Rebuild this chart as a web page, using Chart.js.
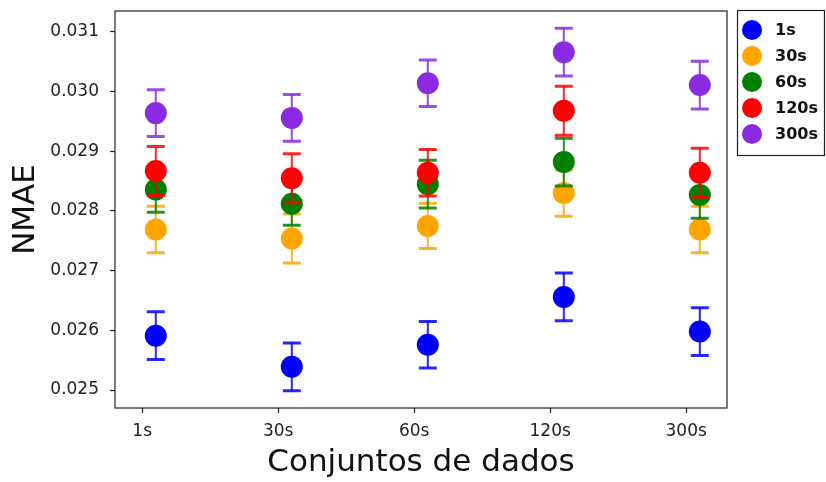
<!DOCTYPE html>
<html>
<head>
<meta charset="utf-8">
<script src="https://cdn.jsdelivr.net/npm/chart.js@4"></script>
<style>
  body { margin: 0; background: #fff; }
  canvas { display: block; }
</style>
</head>
<body>
<canvas id="errChart" width="826" height="482"></canvas>
<script>
// data
const categories = ['1s', '30s', '60s', '120s', '300s']
const seriesNames = ['1s', '30s', '60s', '120s', '300s']
const seriesColors = ['#0000ff', '#ffa500', '#008000', '#ff0000', '#8a2be2']

const mean1s = [0.02591, 0.02539, 0.02576, 0.02656, 0.02598]
const mean30s = [0.02769, 0.02754, 0.02775, 0.02830, 0.02769]
const mean60s = [0.02836, 0.02812, 0.02845, 0.02882, 0.02827]
const mean120s = [0.02867, 0.02855, 0.02864, 0.02968, 0.02864]
const mean300s = [0.02964, 0.02956, 0.03014, 0.03066, 0.03011]

const err1s = [0.00040, 0.00040, 0.00039, 0.00040, 0.00040]
const err30s = [0.00039, 0.00041, 0.00038, 0.00039, 0.00039]
const err60s = [0.00038, 0.00036, 0.00040, 0.00040, 0.00039]
const err120s = [0.00041, 0.00041, 0.00039, 0.00041, 0.00041]
const err300s = [0.00039, 0.00039, 0.00039, 0.00040, 0.00040]

const yTicks = [0.025, 0.026, 0.027, 0.028, 0.029, 0.030, 0.031]

const means = [mean1s, mean30s, mean60s, mean120s, mean300s]
const errors = [err1s, err30s, err60s, err120s, err300s]
const X_SHIFT = 0.1 // points sit a little right of each tick

const FONT = 'DejaVu Sans'

// error bars, drawn just before each dataset's markers
const errorBars = {
  id: 'errorBars',
  beforeDatasetDraw(chart, args) {
    const i = args.index
    const { ctx, scales } = chart
    const xs = scales.x
    const ys = scales.y
    ctx.save()
    ctx.strokeStyle = seriesColors[i]
    ctx.globalAlpha = 0.85
    means[i].forEach((m, j) => {
      const px = xs.getPixelForValue(j + X_SHIFT)
      const top = ys.getPixelForValue(m + errors[i][j])
      const bot = ys.getPixelForValue(m - errors[i][j])
      ctx.lineWidth = 2
      ctx.beginPath()
      ctx.moveTo(px, top)
      ctx.lineTo(px, bot)
      ctx.stroke()
      ctx.lineWidth = 3
      ctx.beginPath()
      ctx.moveTo(px - 9, top)
      ctx.lineTo(px + 9, top)
      ctx.moveTo(px - 9, bot)
      ctx.lineTo(px + 9, bot)
      ctx.stroke()
    })
    ctx.restore()
  },
}

// frame round the plot and a boxed legend outside on the right
const frameAndLegend = {
  id: 'frameAndLegend',
  afterDraw(chart) {
    const { ctx, chartArea } = chart
    ctx.save()
    ctx.strokeStyle = '#222'
    ctx.lineWidth = 1.2
    ctx.strokeRect(chartArea.left, chartArea.top, chartArea.right - chartArea.left, chartArea.bottom - chartArea.top)

    ctx.strokeRect(737.5, 10.5, 87, 145)
    ctx.font = 'bold 16px ' + FONT
    ctx.textBaseline = 'middle'
    seriesNames.forEach((name, i) => {
      const y = 30 + i * 26
      ctx.fillStyle = seriesColors[i]
      ctx.beginPath()
      ctx.arc(752, y, 10, 0, Math.PI * 2)
      ctx.fill()
      ctx.fillStyle = '#111'
      ctx.fillText(name, 775, y + 1)
    })
    ctx.restore()
  },
}

const createChart = () => {
  const canvas = document.getElementById('errChart')
  new Chart(canvas, {
    type: 'scatter',
    data: {
      datasets: seriesNames.map((name, i) => ({
        label: name,
        data: means[i].map((m, j) => ({ x: j + X_SHIFT, y: m })),
        backgroundColor: seriesColors[i],
        borderWidth: 0,
        pointRadius: 11,
        pointHoverRadius: 11,
        order: seriesNames.length - 1 - i,
      })),
    },
    options: {
      responsive: false,
      animation: false,
      layout: { padding: { left: 0, right: 99, top: 10, bottom: 0 } },
      plugins: {
        legend: { display: false },
        tooltip: { enabled: false },
      },
      scales: {
        x: {
          type: 'linear',
          min: -0.2,
          max: 4.3,
          afterBuildTicks: (scale) => {
            scale.ticks = categories.map((c, j) => ({ value: j }))
          },
          afterFit: (scale) => {
            scale.height = 74
            scale.paddingLeft = 0
            scale.paddingRight = 0
          },
          grid: { drawOnChartArea: false, tickLength: 5, color: '#222', tickWidth: 1.2 },
          border: { display: false },
          ticks: {
            callback: (v) => categories[v],
            font: { family: FONT, size: 17 },
            color: '#222',
            padding: 8,
            maxRotation: 0,
          },
          title: {
            display: true,
            text: 'Conjuntos de dados',
            font: { family: FONT, size: 31 },
            color: '#111',
            padding: { top: 0, bottom: 0 },
          },
        },
        y: {
          min: 0.024699,
          max: 0.031351,
          afterBuildTicks: (scale) => {
            scale.ticks = yTicks.map((v) => ({ value: v }))
          },
          afterFit: (scale) => {
            scale.width = 115
            scale.paddingTop = 0
            scale.paddingBottom = 0
          },
          grid: { drawOnChartArea: false, tickLength: 5, color: '#222', tickWidth: 1.2 },
          border: { display: false },
          ticks: {
            callback: (v) => v.toFixed(3),
            font: { family: FONT, size: 17 },
            color: '#222',
            padding: 11,
          },
          title: {
            display: true,
            text: 'NMAE',
            font: { family: FONT, size: 31 },
            color: '#111',
            padding: { top: 7, bottom: 0 },
          },
        },
      },
    },
    plugins: [errorBars, frameAndLegend],
  })
}

createChart()
</script>
</body>
</html>
